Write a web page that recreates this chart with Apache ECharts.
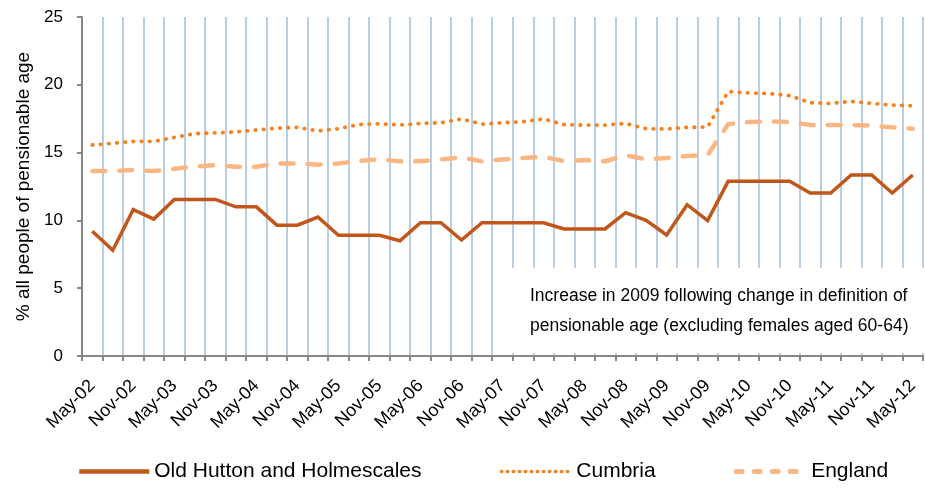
<!DOCTYPE html>
<html>
<head>
<meta charset="utf-8">
<script src="https://cdn.jsdelivr.net/npm/echarts@6/dist/echarts.min.js"></script>
<style>
html,body{margin:0;padding:0;background:#fff;}
#chart{width:925px;height:488px;}
</style>
</head>
<body>
<div id="chart"></div>
<script>
var categories = ['May-02','Aug-02','Nov-02','Feb-03','May-03','Aug-03','Nov-03','Feb-04','May-04','Aug-04','Nov-04','Feb-05','May-05','Aug-05','Nov-05','Feb-06','May-06','Aug-06','Nov-06','Feb-07','May-07','Aug-07','Nov-07','Feb-08','May-08','Aug-08','Nov-08','Feb-09','May-09','Aug-09','Nov-09','Feb-10','May-10','Aug-10','Nov-10','Feb-11','May-11','Aug-11','Nov-11','Feb-12','May-12'];
var oldHutton = [9.2,7.8,10.8,10.1,11.55,11.55,11.55,11.0,11.0,9.65,9.65,10.25,8.9,8.9,8.9,8.5,9.83,9.83,8.55,9.83,9.83,9.83,9.83,9.37,9.37,9.37,10.57,10.0,8.92,11.16,9.98,12.88,12.88,12.88,12.88,12.02,12.02,13.35,13.35,12.02,13.35];
var cumbria = [15.56,15.68,15.83,15.83,16.12,16.4,16.45,16.52,16.67,16.8,16.86,16.6,16.76,17.08,17.13,17.03,17.15,17.2,17.48,17.1,17.2,17.28,17.48,17.06,17.03,17.03,17.15,16.76,16.74,16.86,16.89,19.5,19.4,19.35,19.2,18.68,18.63,18.78,18.63,18.5,18.46];
var england = [13.64,13.64,13.72,13.64,13.81,13.96,14.08,13.96,13.96,14.2,14.2,14.11,14.2,14.38,14.5,14.36,14.36,14.5,14.65,14.35,14.5,14.6,14.68,14.38,14.45,14.36,14.8,14.5,14.6,14.75,14.82,17.1,17.26,17.3,17.26,17.03,17.03,17.03,17.0,16.86,16.76];
var seriesNames = ['Old Hutton and Holmescales','Cumbria','England'];
var yTicks = {min:0, max:25, interval:5};
var yAxisTitle = '% all people of pensionable age';
var noteLines = ['Increase in 2009 following change in definition of','pensionable age (excluding females aged 60-64)'];

var FONT = '"Liberation Sans", Arial, sans-serif';
var chart = echarts.init(document.getElementById('chart'), null, {renderer:'canvas'});
chart.setOption({
  animation: false,
  backgroundColor: '#ffffff',
  textStyle: {fontFamily: FONT},
  grid: {left: 82, right: 2, top: 17, bottom: 132, containLabel: false},
  legend: {
    top: 456, left: 72,
    itemGap: 78, itemWidth: 70, itemHeight: 12,
    itemStyle: {opacity: 0},
    textStyle: {fontSize: 21, color: '#000', fontFamily: FONT},
    data: [
      {name: seriesNames[0], lineStyle: {width: 4.5}},
      {name: seriesNames[1], lineStyle: {width: 3.5, type: [0.5, 5.5], cap: 'round'}},
      {name: seriesNames[2], lineStyle: {width: 5, type: [6, 12], cap: 'round'}}
    ]
  },
  xAxis: {
    type: 'category',
    data: categories,
    boundaryGap: true,
    axisLine: {lineStyle: {color: '#868686', width: 2}},
    axisTick: {show: true, interval: 0, length: 5, lineStyle: {color: '#868686', width: 2}},
    axisLabel: {interval: 1, rotate: 45, fontSize: 18, color: '#000', margin: 27, fontFamily: FONT},
    splitLine: {show: true, interval: 0, lineStyle: {color: '#B9CDE5', width: 2}}
  },
  yAxis: {
    type: 'value',
    min: yTicks.min, max: yTicks.max, interval: yTicks.interval,
    name: yAxisTitle,
    nameLocation: 'middle',
    nameGap: 47,
    nameTextStyle: {fontSize: 19, color: '#000', fontFamily: FONT},
    axisLine: {show: true, lineStyle: {color: '#868686', width: 2}},
    axisTick: {show: true, length: 5, lineStyle: {color: '#868686', width: 2}},
    axisLabel: {fontSize: 17, color: '#000', margin: 19, fontFamily: FONT},
    splitLine: {show: false}
  },
  graphic: [
    {type: 'rect', z: 10, shape: {x: 505, y: 268, width: 420, height: 85}, style: {fill: '#ffffff'}},
    {type: 'text', z: 11, left: 530, top: 281, style: {text: noteLines.join('\n'), font: '17.5px "Liberation Sans", Arial, sans-serif', fill: '#000', lineHeight: 30}}
  ],
  series: [
    {name: seriesNames[0], type: 'line', data: oldHutton, symbol: 'none', z: 4,
     lineStyle: {color: '#C0561A', width: 3.5, join: 'miter'}, itemStyle: {color: '#C0561A'}},
    {name: seriesNames[1], type: 'line', data: cumbria, symbol: 'none', z: 3,
     lineStyle: {color: '#F5821F', width: 3.8, type: [0.5, 7.7], cap: 'round'}, itemStyle: {color: '#F5821F'}},
    {name: seriesNames[2], type: 'line', data: england, symbol: 'none', z: 2,
     lineStyle: {color: '#FAB784', width: 4.5, type: [13, 14], cap: 'round'}, itemStyle: {color: '#FAB784'}}
  ]
});
</script>
</body>
</html>
